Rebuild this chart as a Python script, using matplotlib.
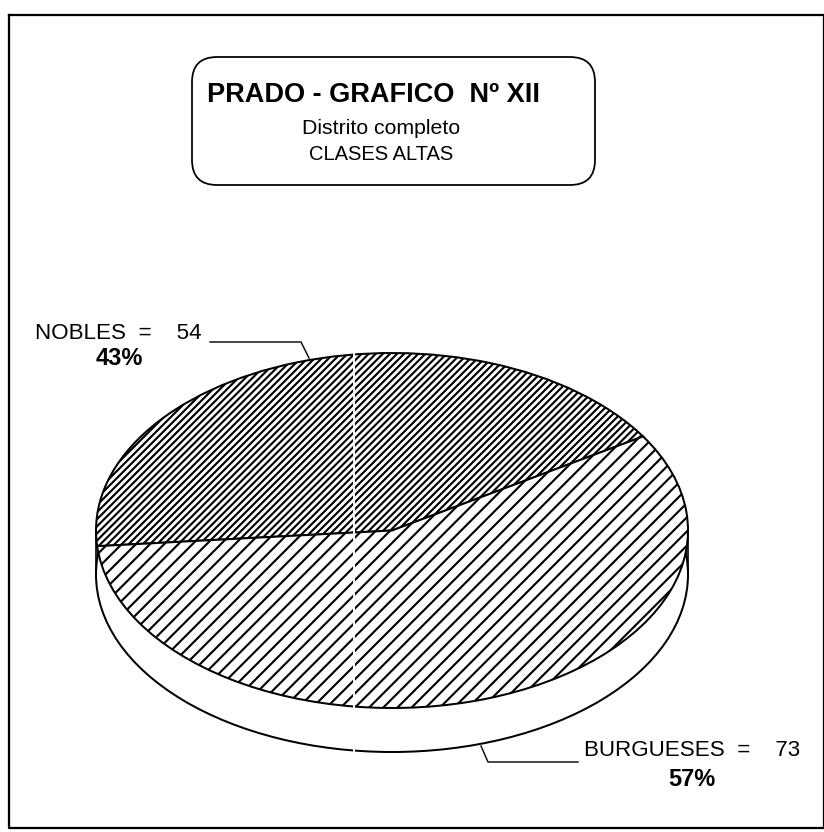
import matplotlib
matplotlib.use("Agg")
import matplotlib.pyplot as plt
from matplotlib.patches import FancyBboxPatch

plt.rcParams['font.family'] = ['Liberation Sans', 'DejaVu Sans']
plt.rcParams['hatch.linewidth'] = 1.8

# Datos del grafico
categorias = ["NOBLES", "BURGUESES"]
valores = [54, 73]
porcentajes = ["43%", "57%"]
titulo = "PRADO - GRAFICO  Nº XII"
subtitulo = ["Distrito completo", "CLASES ALTAS"]

# a 85 dpi el rayado de matplotlib queda como el del original
W, H = 825, 832
fig = plt.figure(figsize=(W / 85, H / 85), dpi=85, facecolor="white")

# eje base en pixeles de la imagen
ax = fig.add_axes([0, 0, 1, 1], zorder=3)
ax.set_xlim(0, W)
ax.set_ylim(H, 0)
ax.axis("off")
ax.patch.set_alpha(0)


def eje_tarta(x0, y0, x1, y1, z):
    a = fig.add_axes([x0 / W, 1 - y1 / H, (x1 - x0) / W, (y1 - y0) / H], zorder=z)
    a.patch.set_alpha(0)
    return a


# cara lateral (elipse desplazada hacia abajo)
prof = 44
lado = eje_tarta(96, 353 + prof, 688, 708 + prof, 1)
lado.pie([sum(valores)], colors=["white"], radius=1, wedgeprops={"edgecolor": "black", "linewidth": 1.7})
lado.set_aspect("auto")
lado.set_xlim(-1, 1)
lado.set_ylim(-1, 1)

# cara superior
tapa = eje_tarta(96, 353, 688, 708, 2)
cunas, _ = tapa.pie(valores, startangle=32, radius=1, colors=["white", "white"],
                    wedgeprops={"edgecolor": "black", "linewidth": 1.7})
cunas[0].set_hatch("////")
cunas[1].set_hatch("//")
tapa.set_aspect("auto")
tapa.set_xlim(-1, 1)
tapa.set_ylim(-1, 1)

# bordes verticales de la cara lateral
ax.plot([96, 96], [531, 531 + prof], color="black", lw=1.4)
ax.plot([688, 688], [531, 531 + prof], color="black", lw=1.4)

# linea blanca del escaneado
ax.plot([354, 354], [345, 760], color="white", lw=1.6)

# marco exterior
ax.plot([9, 9, 824, 824, 9], [15, 828, 828, 15, 15], color="black", lw=1.9)

# recuadro del titulo
caja = FancyBboxPatch((192, 57), 403, 128, boxstyle="round,pad=0,rounding_size=25",
                      fc="white", ec="black", lw=1.5)
ax.add_patch(caja)
ax.text(374, 95, titulo, ha="center", va="center", fontsize=23, fontweight="bold", color="black")
ax.text(381, 128, subtitulo[0], ha="center", va="center", fontsize=18, color="black")
ax.text(381, 155, subtitulo[1], ha="center", va="center", fontsize=17, color="black")

# etiquetas
ax.text(35, 333, f"{categorias[0]}  =    {valores[0]}", ha="left", va="center", fontsize=19, color="black")
ax.text(119, 358, porcentajes[0], ha="center", va="center", fontsize=20, fontweight="bold", color="black")
ax.plot([210, 301, 309], [342, 342, 358], color="black", lw=1.2)

ax.text(584, 750, f"{categorias[1]}  =    {valores[1]}", ha="left", va="center", fontsize=19, color="black")
ax.text(692, 779, porcentajes[1], ha="center", va="center", fontsize=20, fontweight="bold", color="black")
ax.plot([578, 488, 481], [762, 762, 746], color="black", lw=1.2)

fig.savefig("out.png", dpi=85)
